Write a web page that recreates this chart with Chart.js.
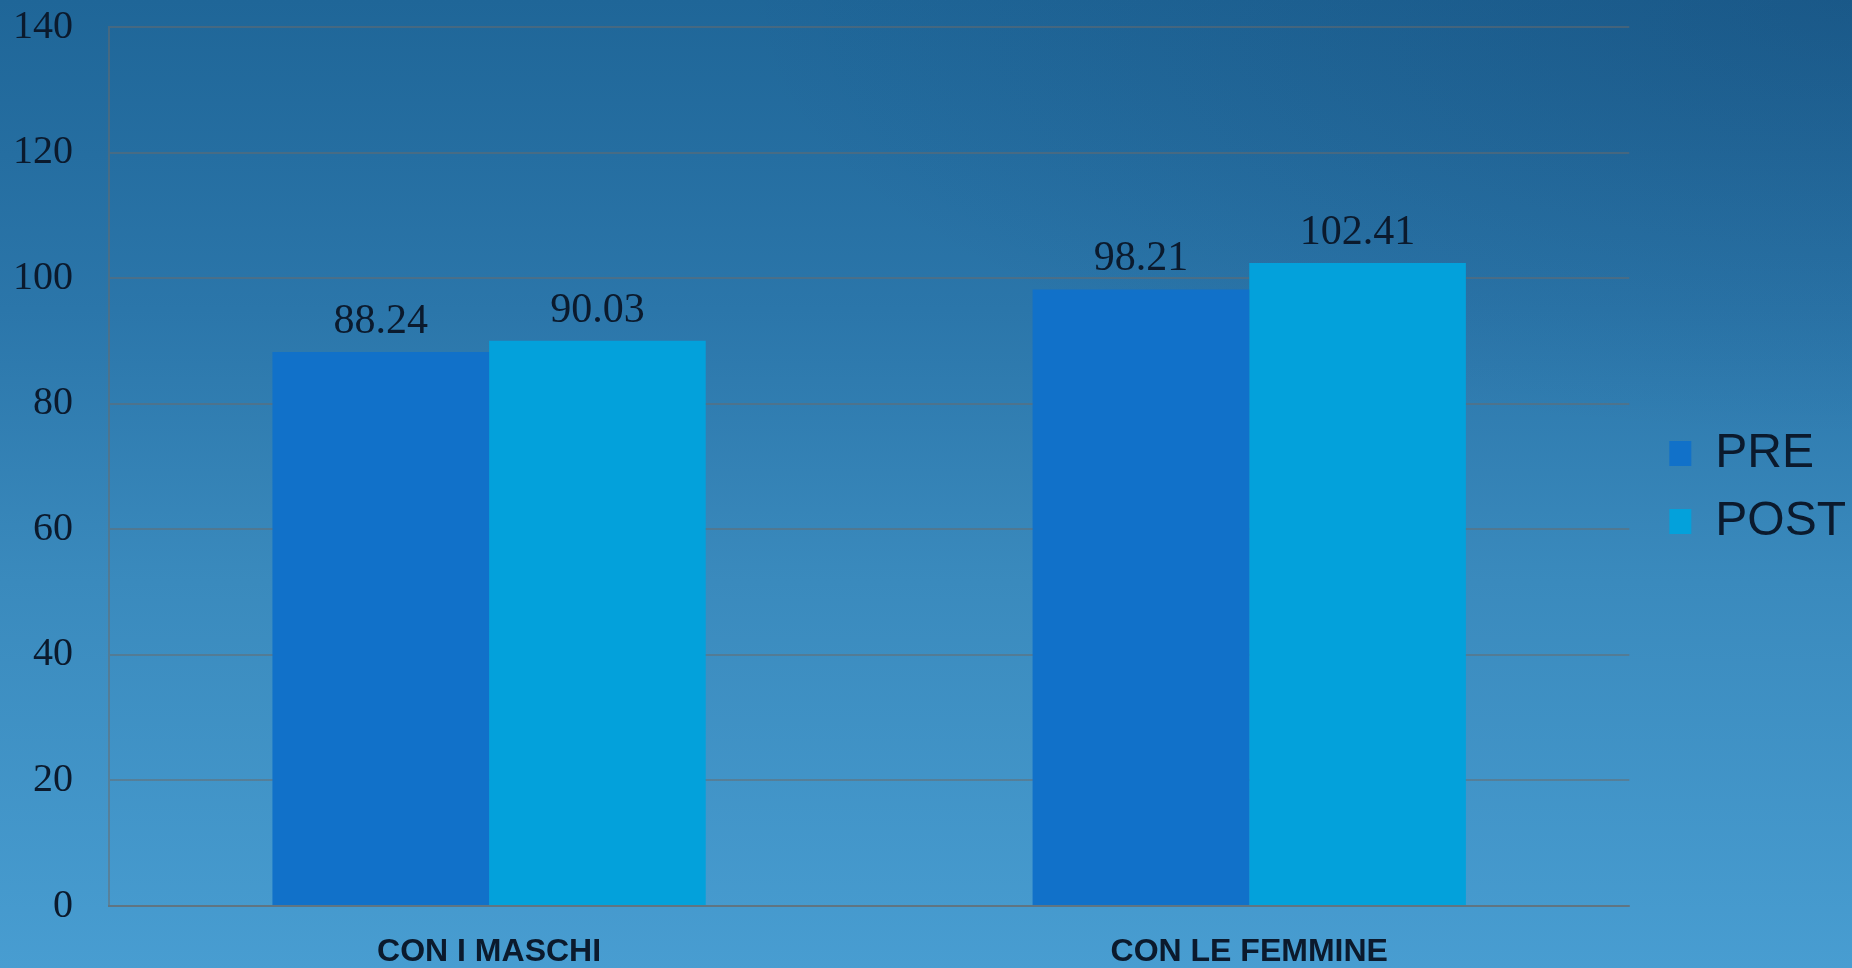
<!DOCTYPE html>
<html>
<head>
<meta charset="utf-8">
<script src="https://cdn.jsdelivr.net/npm/chart.js@4/dist/chart.umd.min.js"></script>
<style>
  html, body { margin: 0; padding: 0; }
  body {
    width: 1852px; height: 968px; overflow: hidden;
    background:
      radial-gradient(ellipse 60% 45% at 100% 0%, rgba(8, 40, 80, 0.22), rgba(8, 40, 80, 0) 100%),
      linear-gradient(180deg, #1f6698 0%, #2b76aa 32%, #3a8abd 60%, #489dd1 100%);
  }
  #wrap { position: relative; width: 1852px; height: 968px; }
</style>
</head>
<body>
<div id="wrap"><canvas id="chart"></canvas></div>
<script>
// Categories and series
const categories = ['CON I MASCHI', 'CON LE FEMMINE'];
const preValues = [88.24, 98.21];
const postValues = [90.03, 102.41];
const seriesNames = ['PRE', 'POST'];
const yTicks = [0, 20, 40, 60, 80, 100, 120, 140];

const textColor = '#0b1a2d';
const gridColor = 'rgba(105,105,105,0.5)';

// Writes each bar's value above it
const valueLabels = {
  id: 'valueLabels',
  afterDatasetsDraw(chart) {
    const ctx = chart.ctx;
    ctx.save();
    ctx.font = '42px "Liberation Serif"';
    ctx.fillStyle = textColor;
    ctx.textAlign = 'center';
    ctx.textBaseline = 'alphabetic';
    chart.data.datasets.forEach((ds, i) => {
      chart.getDatasetMeta(i).data.forEach((bar, j) => {
        ctx.fillText(ds.data[j].toFixed(2), bar.x, bar.y - 19);
      });
    });
    ctx.restore();
  }
};

new Chart(document.getElementById('chart'), {
  type: 'bar',
  data: {
    labels: categories,
    datasets: [
      { label: seriesNames[0], data: preValues, backgroundColor: '#1171c9' },
      { label: seriesNames[1], data: postValues, backgroundColor: '#03a1db' }
    ]
  },
  options: {
    responsive: true,
    maintainAspectRatio: false,
    animation: false,
    layout: { padding: { top: 27, left: 13, right: -4, bottom: 0 } },
    datasets: { bar: { categoryPercentage: 0.57, barPercentage: 1.0 } },
    scales: {
      x: {
        grid: { display: false, drawTicks: true, tickLength: 30 },
        border: { display: true, color: gridColor, width: 2 },
        ticks: {
          color: textColor,
          padding: 0,
          font: { family: '"Liberation Sans"', size: 32, weight: 'bold', lineHeight: 1.0 }
        }
      },
      y: {
        min: 0,
        max: 140,
        afterBuildTicks(scale) { scale.ticks = yTicks.map(v => ({ value: v })); },
        grid: { color: gridColor, lineWidth: 2, drawTicks: true, tickLength: 36, tickColor: 'rgba(0,0,0,0)' },
        border: { display: true, color: gridColor, width: 2 },
        ticks: {
          color: textColor,
          padding: 0,
          font: { family: '"Liberation Serif"', size: 40 }
        }
      },
      yRight: {
        position: 'right',
        display: true,
        grid: { display: false, drawTicks: false },
        border: { display: false },
        ticks: { display: false },
        afterFit(scale) { scale.width = 20; }
      }
    },
    plugins: {
      tooltip: { enabled: false },
      legend: {
        position: 'right',
        align: 'center',
        fullSize: false,
        title: { display: true, text: '', padding: { top: 27.6, bottom: 0 } },
        labels: {
          color: textColor,
          boxWidth: 22,
          boxHeight: 25,
          padding: 20,
          font: { family: '"Liberation Sans"', size: 48 }
        }
      }
    }
  },
  plugins: [valueLabels]
});
</script>
</body>
</html>
